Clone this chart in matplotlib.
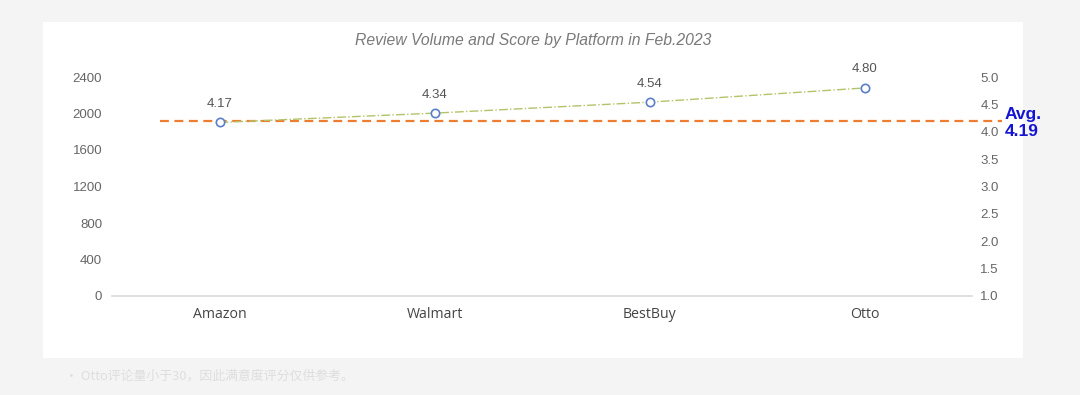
import matplotlib.pyplot as plt
from matplotlib.patches import Rectangle

# data
platforms = ['Amazon', 'Walmart', 'BestBuy', 'Otto']
scores = [4.17, 4.34, 4.54, 4.80]
avg_score = 4.19
volume_ticks = [0, 400, 800, 1200, 1600, 2000, 2400]
score_ticks = [1.0, 1.5, 2.0, 2.5, 3.0, 3.5, 4.0, 4.5, 5.0]
title = 'Review Volume and Score by Platform in Feb.2023'
note = '• Otto评论量小于30，因此满意度评分仅供参考。'

fig = plt.figure(figsize=(10.8, 3.95), dpi=100, facecolor='#f4f4f4')
# white card behind the chart
fig.add_artist(Rectangle((43 / 1080, 1 - 358 / 395), 980 / 1080, 336 / 395,
                         transform=fig.transFigure, facecolor='white',
                         edgecolor='none', zorder=-10))

ax = fig.add_axes([112 / 1080, 1 - 296 / 395, 860 / 1080, 219 / 395])
ax.set_facecolor('none')
x = list(range(len(platforms)))
ax.set_xlim(-0.5, len(platforms) - 0.5)
ax.set_ylim(0, 2400)
ax.set_yticks(volume_ticks)
ax.set_yticklabels([str(v) for v in volume_ticks], fontsize=9.5, color='#666666',
                   family='Liberation Sans')
ax.set_xticks(x)
ax.set_xticklabels(platforms, fontsize=10.2, color='#444444', family='Open Sans')
ax.tick_params(axis='both', length=0)
ax.tick_params(axis='y', pad=7)
ax.tick_params(axis='x', pad=8)
for s in ['top', 'right', 'left']:
    ax.spines[s].set_visible(False)
ax.spines['bottom'].set_color('#d9d9d9')
ax.spines['bottom'].set_linewidth(1.2)

ax2 = ax.twinx()
ax2.set_ylim(1.0, 5.0)
ax2.set_yticks(score_ticks)
ax2.set_yticklabels(['%.1f' % v for v in score_ticks], fontsize=9.5, color='#666666',
                    family='Liberation Sans')
ax2.tick_params(axis='y', length=0, pad=6)
for s in ax2.spines.values():
    s.set_visible(False)

ax2.plot(x, scores, color='#b2c46a', linestyle='-.', linewidth=1.0, zorder=3)
ax2.plot(x, scores, linestyle='none', marker='o', markersize=6,
         markerfacecolor='white', markeredgecolor='#5b7fc7', markeredgewidth=1.2, zorder=4)
for xi, s in zip(x, scores):
    ax2.annotate('%.2f' % s, (xi, s), xytext=(0, 9), textcoords='offset points',
                 ha='center', va='bottom', fontsize=9.5, color='#555555',
                 family='Liberation Sans')

ax2.plot([-0.277, 3.64], [avg_score, avg_score], color='#ed7d31', linestyle='--',
         linewidth=1.6, dashes=(4, 2.5), clip_on=False, zorder=2)
ax2.annotate('Avg.\n%.2f' % avg_score, (3.64, avg_score), xytext=(2, -1),
             textcoords='offset points', ha='left', va='center', fontsize=12.5,
             fontweight='bold', color='#1414d2', family='Liberation Sans',
             linespacing=1.15, annotation_clip=False)

fig.text(533 / 1080, 1 - 40 / 395, title, ha='center', va='center', fontsize=11.3,
         style='italic', color='#7a7a7a', family='Liberation Sans')
fig.text(65 / 1080, 1 - 376 / 395, note, ha='left', va='center', fontsize=9.3,
         color='#dedede', family=['Noto Sans CJK SC', 'DejaVu Sans'])

fig.savefig('out.png', dpi=100, facecolor=fig.get_facecolor())
